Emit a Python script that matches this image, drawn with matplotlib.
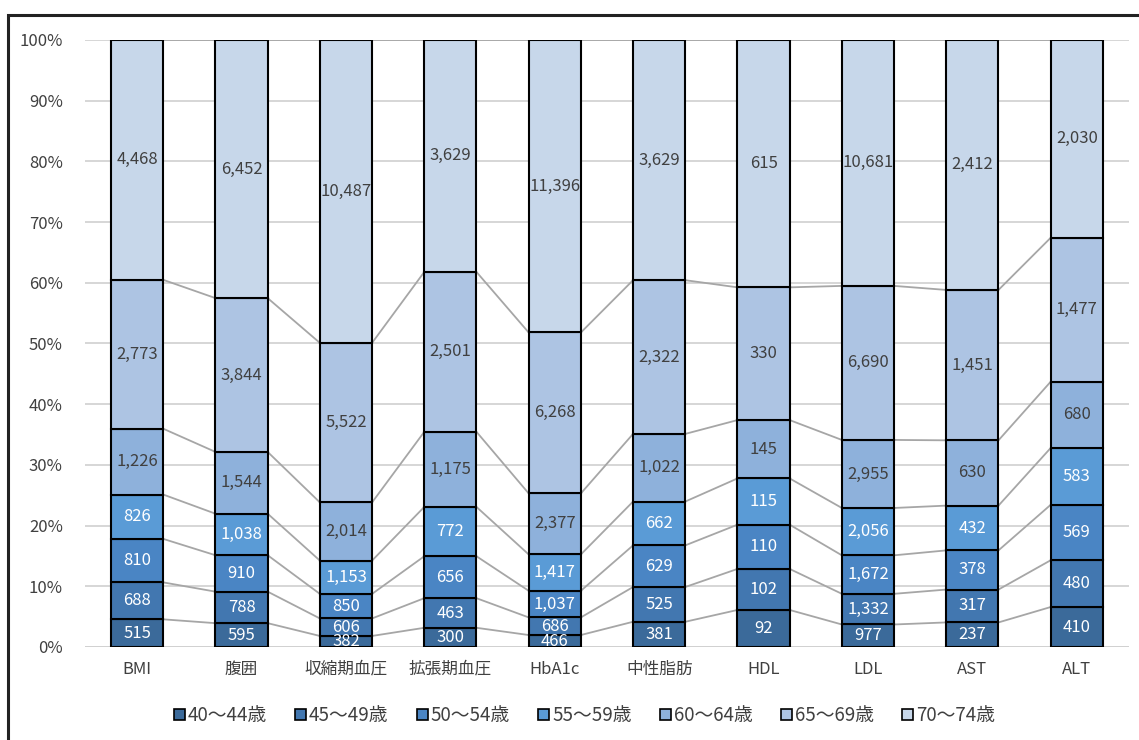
import numpy as np
import matplotlib
matplotlib.use('Agg')
import matplotlib.pyplot as plt
from matplotlib.patches import Rectangle, Patch
from matplotlib.ticker import PercentFormatter

plt.rcParams['font.family'] = ['Noto Sans CJK JP', 'DejaVu Sans']

# --- data ---
categories = ['BMI', '腹囲', '収縮期血圧', '拡張期血圧', 'HbA1c', '中性脂肪', 'HDL', 'LDL', 'AST', 'ALT']
age_groups = ['40～44歳', '45～49歳', '50～54歳', '55～59歳', '60～64歳', '65～69歳', '70～74歳']
age_40_44 = [515, 595, 382, 300, 466, 381, 92, 977, 237, 410]
age_45_49 = [688, 788, 606, 463, 686, 525, 102, 1332, 317, 480]
age_50_54 = [810, 910, 850, 656, 1037, 629, 110, 1672, 378, 569]
age_55_59 = [826, 1038, 1153, 772, 1417, 662, 115, 2056, 432, 583]
age_60_64 = [1226, 1544, 2014, 1175, 2377, 1022, 145, 2955, 630, 680]
age_65_69 = [2773, 3844, 5522, 2501, 6268, 2322, 330, 6690, 1451, 1477]
age_70_74 = [4468, 6452, 10487, 3629, 11396, 3629, 615, 10681, 2412, 2030]

series = [age_40_44, age_45_49, age_50_54, age_55_59, age_60_64, age_65_69, age_70_74]
colors = ['#3B6A9A', '#4277B0', '#4A85C4', '#5A9BD6', '#8EB1DB', '#ADC4E3', '#C7D7EA']
label_colors = ['white', 'white', 'white', 'white', '#404040', '#404040', '#404040']

vals = np.array(series, dtype=float)
totals = vals.sum(axis=0)
pct = vals / totals * 100
cum = np.cumsum(pct, axis=0)

fig = plt.figure(figsize=(11.39, 7.4), dpi=100)
ax = fig.add_axes([0.0746, 0.1257, 0.9166, 0.8203])

x = np.arange(len(categories))
bw = 0.5
GRID = '#D0D0D0'
SERIES_LINE = '#A6A6A6'

# series lines between bars
for s in range(len(series)):
    for i in range(len(categories) - 1):
        ax.plot([x[i] + bw / 2, x[i + 1] - bw / 2], [cum[s, i], cum[s, i + 1]],
                color=SERIES_LINE, lw=1.3, zorder=2)

bottom = np.zeros(len(categories))
for s in range(len(series)):
    ax.bar(x, pct[s], bottom=bottom, width=bw, color=colors[s],
           edgecolor='black', linewidth=1.5, zorder=3)
    for i in range(len(categories)):
        ax.text(x[i], bottom[i] + pct[s, i] / 2, f'{int(vals[s, i]):,}',
                ha='center', va='center', fontsize=12,
                color=label_colors[s], zorder=4)
    bottom += pct[s]

ax.set_xlim(-0.5, len(categories) - 0.5)
ax.set_ylim(0, 100)
ax.set_yticks(np.arange(0, 101, 10))
ax.yaxis.set_major_formatter(PercentFormatter(decimals=0))
ax.set_xticks(x)
ax.set_xticklabels(categories)
ax.tick_params(axis='both', length=0, labelsize=12, colors='#404040')
ax.tick_params(axis='x', pad=10)
ax.tick_params(axis='y', pad=16)
ax.grid(axis='y', color=GRID, lw=1.2, zorder=0)
for sp in ax.spines.values():
    sp.set_visible(False)
ax.axhline(0, color=GRID, lw=1.2, zorder=1)

handles = [Patch(facecolor=c, edgecolor='black', linewidth=1.2) for c in colors]
fig.legend(handles, age_groups, loc='center', bbox_to_anchor=(0.513, 0.033),
           ncol=7, frameon=False, fontsize=13.5, handlelength=0.6, handleheight=0.6,
           handletextpad=0.15, columnspacing=1.5, labelcolor='#404040')

# outer frame
fig.patches.append(Rectangle((8 / 1139, -0.05), 1.1, 1 - 15 / 740 + 0.05,
                             transform=fig.transFigure, fill=False,
                             edgecolor='#222222', linewidth=2.2))

fig.savefig('out.png', dpi=100)
